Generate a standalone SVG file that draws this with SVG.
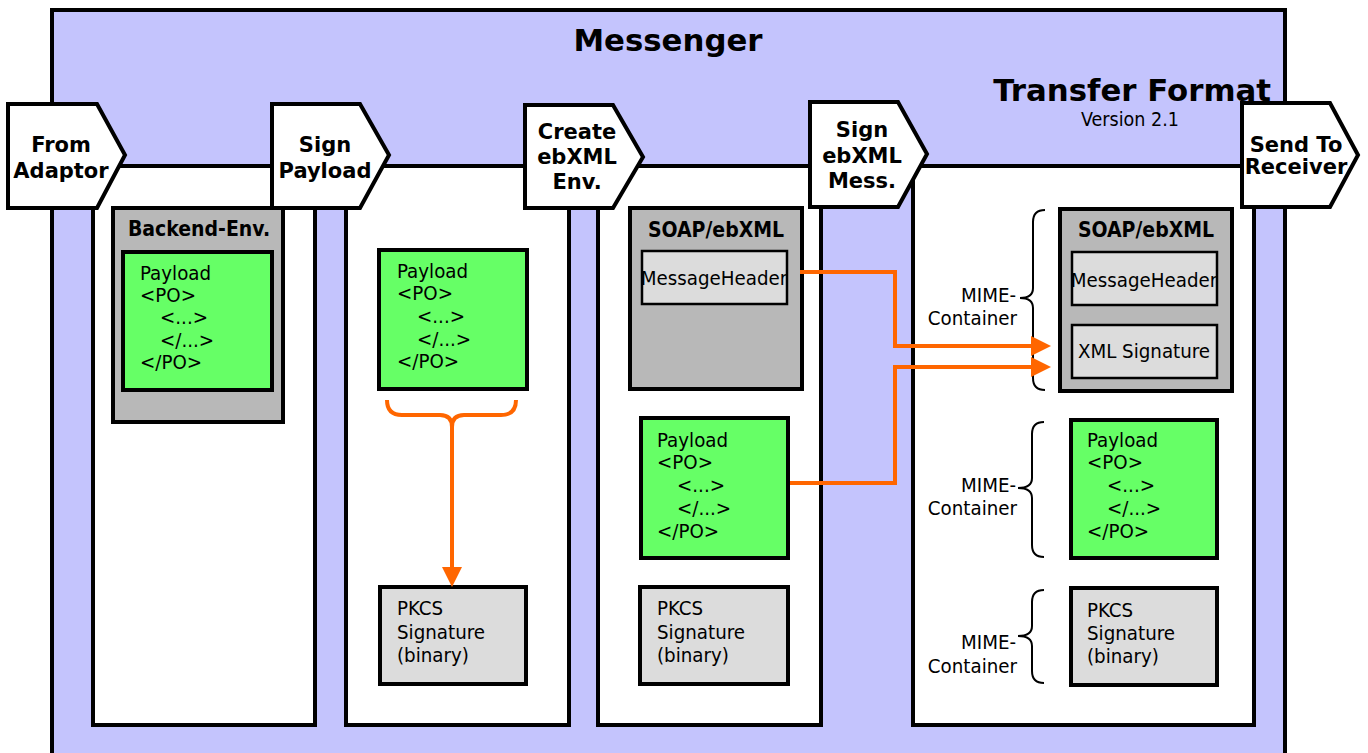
<svg xmlns="http://www.w3.org/2000/svg" width="1368" height="753" viewBox="0 0 1368 753">
<style>
text{font-family:"DejaVu Sans Condensed","DejaVu Sans",sans-serif;fill:#000}
.big{font-family:"DejaVu Sans",sans-serif;font-size:30.8px;font-weight:bold}
.t{font-size:20.3px}
.chev{fill:#fff;stroke:#000;stroke-width:4;stroke-linejoin:miter}
.ct{font-family:"DejaVu Sans",sans-serif;font-size:21px;font-weight:bold;text-anchor:middle}
.col{fill:#fff;stroke:#000;stroke-width:4}
.green{fill:#66ff66;stroke:#000;stroke-width:4}
.gray{fill:#b8b8b8;stroke:#000;stroke-width:4}
.lgray{fill:#dcdcdc;stroke:#000;stroke-width:4}
.inner{fill:#dcdcdc;stroke:#000;stroke-width:2.5}
.title{font-size:21px;font-weight:bold;text-anchor:middle}
.brace{fill:none;stroke:#000;stroke-width:2}
.mime{font-size:20.3px;text-anchor:end}
.conn{fill:none;stroke:#ff6600;stroke-width:4}
</style>
<defs>
<marker id="ah" markerUnits="userSpaceOnUse" markerWidth="22" markerHeight="22" refX="2" refY="10" orient="auto">
<path d="M0,0 L20,10 L0,20 Z" fill="#ff6600"/>
</marker>
</defs>
<rect width="1368" height="753" fill="#fff"/>
<g id="messenger">
<rect x="52" y="10" width="1233" height="800" fill="#c4c4fd" stroke="#000" stroke-width="4"/>
<text class="big" x="668" y="51" text-anchor="middle">Messenger</text>
<text class="big" x="1271" y="101" text-anchor="end">Transfer Format</text>
<text x="1130" y="126" font-size="19.5" text-anchor="middle">Version 2.1</text>
</g>
<g id="columns">
<rect id="col1" class="col" x="93" y="166" width="222" height="559"/>
<rect id="col2" class="col" x="346" y="166" width="223" height="559"/>
<rect id="col3" class="col" x="598" y="166" width="223" height="559"/>
<rect id="col4" class="col" x="913" y="166" width="341" height="559"/>
</g>
<g id="step-from-adaptor">
<polygon class="chev" points="8,104 97,104 125,155 97,208 8,208"/>
<text class="ct" x="61" y="152">From</text>
<text class="ct" x="61" y="178">Adaptor</text>
</g>
<g id="step-sign-payload">
<polygon class="chev" points="272,104 360,104 389,155 360,208 272,208"/>
<text class="ct" x="325" y="152">Sign</text>
<text class="ct" x="325" y="178">Payload</text>
</g>
<g id="step-create-env">
<polygon class="chev" points="525,105 613,105 643,157 613,208 525,208"/>
<text class="ct" x="577" y="139">Create</text>
<text class="ct" x="577" y="164">ebXML</text>
<text class="ct" x="577" y="189">Env.</text>
</g>
<g id="step-sign-mess">
<polygon class="chev" points="810,102 898,102 927,154 898,207 810,207"/>
<text class="ct" x="862" y="137">Sign</text>
<text class="ct" x="862" y="163">ebXML</text>
<text class="ct" x="862" y="188">Mess.</text>
</g>
<g id="step-send">
<polygon class="chev" points="1242,103 1330,103 1358,155 1330,207 1242,207"/>
<text class="ct" x="1296" y="152">Send To</text>
<text class="ct" x="1296" y="174">Receiver</text>
</g>
<g id="backend-env">
<rect class="gray" x="113" y="208" width="170" height="214"/>
<text class="title" x="199" y="236">Backend-Env.</text>
<rect class="green" x="123" y="252" width="149" height="138"/>
<text class="t" x="140" y="280">Payload</text>
<text class="t" x="140" y="302">&lt;PO&gt;</text>
<text class="t" x="160" y="324">&lt;...&gt;</text>
<text class="t" x="160" y="347">&lt;/...&gt;</text>
<text class="t" x="140" y="369">&lt;/PO&gt;</text>
</g>
<g id="payload2">
<rect class="green" x="379" y="250" width="148" height="139"/>
<text class="t" x="397" y="278">Payload</text>
<text class="t" x="397" y="300">&lt;PO&gt;</text>
<text class="t" x="417" y="323">&lt;...&gt;</text>
<text class="t" x="417" y="346">&lt;/...&gt;</text>
<text class="t" x="397" y="368">&lt;/PO&gt;</text>
</g>
<g id="pkcs2">
<rect class="lgray" x="380" y="587" width="146" height="97"/>
<text class="t" x="397" y="615">PKCS</text>
<text class="t" x="397" y="639">Signature</text>
<text class="t" x="397" y="662">(binary)</text>
</g>
<g id="soap3">
<rect class="gray" x="630" y="208" width="172" height="181"/>
<text class="title" x="716" y="237">SOAP/ebXML</text>
<rect class="inner" x="642" y="251" width="145" height="53"/>
<text class="t" x="714" y="285" text-anchor="middle">MessageHeader</text>
</g>
<g id="payload3">
<rect class="green" x="641" y="418" width="147" height="140"/>
<text class="t" x="657" y="447">Payload</text>
<text class="t" x="657" y="469">&lt;PO&gt;</text>
<text class="t" x="677" y="492">&lt;...&gt;</text>
<text class="t" x="677" y="515">&lt;/...&gt;</text>
<text class="t" x="657" y="538">&lt;/PO&gt;</text>
</g>
<g id="pkcs3">
<rect class="lgray" x="640" y="587" width="148" height="97"/>
<text class="t" x="657" y="615">PKCS</text>
<text class="t" x="657" y="639">Signature</text>
<text class="t" x="657" y="662">(binary)</text>
</g>
<g id="soap4">
<rect class="gray" x="1060" y="209" width="172" height="182"/>
<text class="title" x="1146" y="237">SOAP/ebXML</text>
<rect class="inner" x="1072" y="252" width="145" height="53"/>
<text class="t" x="1144" y="287" text-anchor="middle">MessageHeader</text>
<rect class="inner" x="1072" y="325" width="145" height="53"/>
<text class="t" x="1144" y="358" text-anchor="middle">XML Signature</text>
</g>
<g id="payload4">
<rect class="green" x="1071" y="420" width="146" height="138"/>
<text class="t" x="1087" y="447">Payload</text>
<text class="t" x="1087" y="469">&lt;PO&gt;</text>
<text class="t" x="1107" y="492">&lt;...&gt;</text>
<text class="t" x="1107" y="515">&lt;/...&gt;</text>
<text class="t" x="1087" y="538">&lt;/PO&gt;</text>
</g>
<g id="pkcs4">
<rect class="lgray" x="1071" y="588" width="146" height="97"/>
<text class="t" x="1087" y="617">PKCS</text>
<text class="t" x="1087" y="640">Signature</text>
<text class="t" x="1087" y="663">(binary)</text>
</g>
<g id="mime1">
<path class="brace" d="M1045,210 Q1033,210 1033,222 L1033,288 Q1033,298 1020,298 Q1033,298 1033,308 L1033,378 Q1033,390 1045,390"/>
<text class="mime" x="1016" y="302">MIME-</text>
<text class="mime" x="1017" y="325">Container</text>
</g>
<g id="mime2">
<path class="brace" d="M1044,422 Q1032,422 1032,434 L1032,478 Q1032,488 1018,488 Q1032,488 1032,498 L1032,545 Q1032,557 1044,557"/>
<text class="mime" x="1016" y="492">MIME-</text>
<text class="mime" x="1017" y="515">Container</text>
</g>
<g id="mime3">
<path class="brace" d="M1044,590 Q1032,590 1032,602 L1032,626 Q1032,636 1018,636 Q1032,636 1032,646 L1032,671 Q1032,683 1044,683"/>
<text class="mime" x="1016" y="649">MIME-</text>
<text class="mime" x="1017" y="673">Container</text>
</g>
<g id="connectors">
<path class="conn" d="M387,400 Q387,415 402,415 L440,415 Q452,415 452,427 M516,400 Q516,415 501,415 L464,415 Q452,415 452,427 L452,569" marker-end="url(#ah)"/>
<path class="conn" d="M800,272 H895 V346 H1033" marker-end="url(#ah)"/>
<path class="conn" d="M790,483 H895 V367 H1033" marker-end="url(#ah)"/>
</g>
</svg>
